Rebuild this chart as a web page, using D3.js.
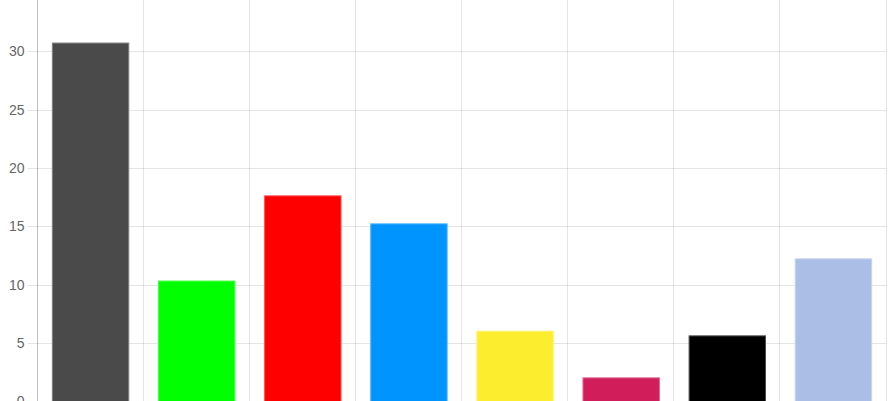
<!DOCTYPE html>
<html><head><meta charset="utf-8">
<script src="https://cdn.jsdelivr.net/npm/d3@7"></script>
<style>html,body{margin:0;padding:0;background:#fff;overflow:hidden}svg{display:block}</style>
</head><body>
<script>
const categories = ["A","B","C","D","E","F","G","H"];
const values = [30.7, 10.3, 17.6, 15.2, 6.0, 2.0, 5.6, 12.2];
const colors = ["#4a4a4a","#00ff00","#ff0000","#0094ff","#fcee2f","#d11e5a","#000000","#abbee6"];
const yTicks = [0,5,10,15,20,25,30];

const W = 890, H = 401;
const left = 37.5, right = 886.5;
const svg = d3.select("body").append("svg").attr("width", W).attr("height", H);

const x = d3.scaleBand().domain(categories).range([left, right]).paddingInner(0).paddingOuter(0);
const y = d3.scaleLinear().domain([0, 30]).range([401.2, 51.2]);

// horizontal grid
svg.append("g").selectAll("line").data(yTicks).join("line")
  .attr("x1", left - 10).attr("x2", right)
  .attr("y1", d => Math.round(y(d)) + 0.5).attr("y2", d => Math.round(y(d)) + 0.5)
  .attr("stroke", "rgba(0,0,0,0.1)").attr("stroke-width", 1);

// vertical grid
svg.append("g").selectAll("line").data(categories).join("line")
  .attr("x1", d => Math.round(x(d) + x.bandwidth()) - 0.5)
  .attr("x2", d => Math.round(x(d) + x.bandwidth()) - 0.5)
  .attr("y1", 0).attr("y2", H)
  .attr("stroke", "rgba(0,0,0,0.1)").attr("stroke-width", 1);

// y axis line
svg.append("line").attr("x1", left).attr("x2", left).attr("y1", 0).attr("y2", H)
  .attr("stroke", "rgba(0,0,0,0.25)").attr("stroke-width", 1);

// bars
const bw = x.bandwidth() * 0.72;
svg.append("g").selectAll("rect").data(values).join("rect")
  .attr("x", (d, i) => x(categories[i]) + (x.bandwidth() - bw) / 2)
  .attr("width", bw)
  .attr("y", d => y(d))
  .attr("height", d => y(0) - y(d) + 5)
  .attr("fill", (d, i) => colors[i])
  .attr("stroke", (d, i) => d3.interpolateRgb(colors[i], "#ffffff")(0.3))
  .attr("stroke-width", 1);

// tick labels
svg.append("g").selectAll("text").data(yTicks).join("text")
  .attr("x", left - 13).attr("y", d => y(d))
  .attr("dy", "0.36em")
  .attr("text-anchor", "end")
  .attr("font-family", "'Liberation Sans', Arial, Helvetica, sans-serif")
  .attr("font-size", 14)
  .attr("fill", "#666")
  .text(d => d);
</script>
</body></html>
